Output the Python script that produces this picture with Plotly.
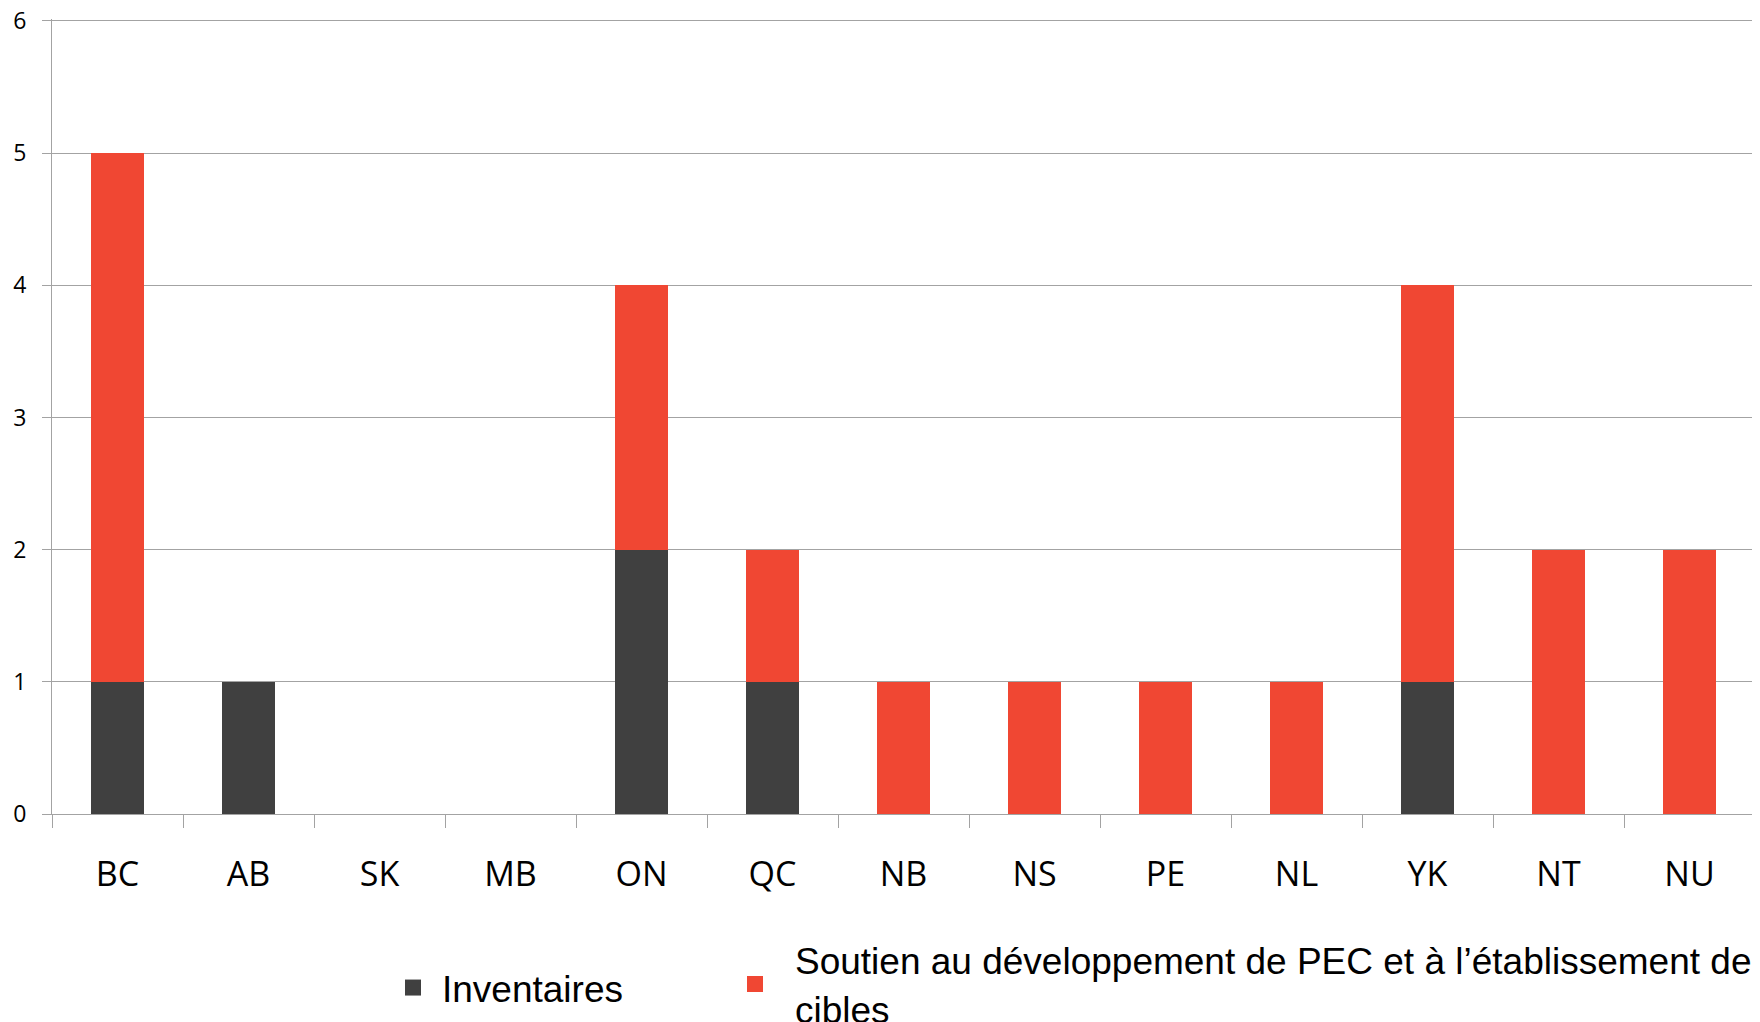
import plotly.graph_objects as go

provinces = ["BC", "AB", "SK", "MB", "ON", "QC", "NB", "NS", "PE", "NL", "YK", "NT", "NU"]
inventaires = [1, 1, 0, 0, 2, 1, 0, 0, 0, 0, 1, 0, 0]
soutien = [4, 0, 0, 0, 2, 1, 1, 1, 1, 1, 3, 2, 2]
series_names = ["Inventaires", "Soutien au développement de PEC et à l’établissement de<br>cibles"]
y_ticks = [0, 1, 2, 3, 4, 5, 6]

DARK = "#404040"
RED = "#F04733"
GRID = "#a3a3a3"

fig = go.Figure()
fig.add_trace(go.Bar(x=provinces, y=inventaires, name=series_names[0], showlegend=False,
                     marker=dict(color=DARK, line=dict(width=0)), width=0.4))
fig.add_trace(go.Bar(x=provinces, y=soutien, name=series_names[1], showlegend=False,
                     marker=dict(color=RED, line=dict(width=0)), width=0.4))
# legend entries (no data points)
fig.add_trace(go.Scatter(x=[None], y=[None], mode="markers", name=series_names[0],
                         marker=dict(symbol="square", size=18, color=DARK), legend="legend"))
fig.add_trace(go.Scatter(x=[None], y=[None], mode="markers", name=series_names[1],
                         marker=dict(symbol="square", size=18, color=RED), legend="legend2"))

legend_font = dict(family="Liberation Sans, Arial", size=37, color="black")
fig.update_layout(
    barmode="stack",
    width=1760, height=1022,
    margin=dict(l=44, r=13, t=11, b=216, autoexpand=False),
    paper_bgcolor="white", plot_bgcolor="white",
    showlegend=True,
    legend=dict(orientation="h", xref="container", yref="container",
                x=376 / 1760, xanchor="left", y=1 - 980 / 1022, yanchor="middle",
                itemwidth=48,
                font=legend_font, valign="middle", bgcolor="rgba(0,0,0,0)"),
    legend2=dict(orientation="h", xref="container", yref="container",
                 x=707 / 1760, xanchor="left", y=1 - 976.5 / 1022, yanchor="middle",
                 itemwidth=70,
                 font=legend_font, valign="middle", bgcolor="rgba(0,0,0,0)"),
    xaxis=dict(
        type="category", automargin=False,
        showline=True, linecolor=GRID, linewidth=1,
        ticks="outside", tickson="boundaries", ticklen=13, tickcolor=GRID, tickwidth=1,
        tickfont=dict(family="Open Sans", size=34, color="black"),
        ticklabelstandoff=30,
        showgrid=False,
    ),
    yaxis=dict(
        range=[0, 6.015], tickvals=y_ticks, automargin=False,
        showline=True, linecolor=GRID, linewidth=1,
        ticks="outside", ticklen=9, tickcolor=GRID, tickwidth=1,
        showgrid=True, gridcolor=GRID, gridwidth=1,
        zeroline=False,
        tickfont=dict(family="Open Sans", size=23, color="black"),
        ticklabelstandoff=11,
        ticklabeloverflow="allow",
    ),
)

fig.write_html("out.html")
